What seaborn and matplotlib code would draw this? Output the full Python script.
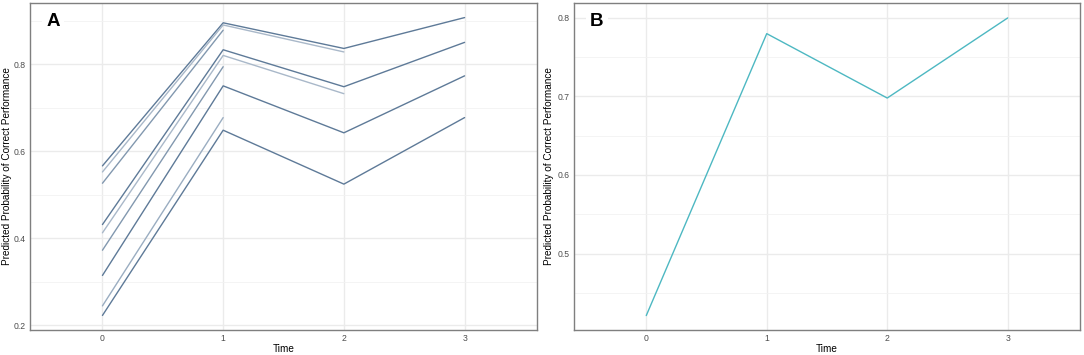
import numpy as np
import pandas as pd
import seaborn as sns
import matplotlib.pyplot as plt
from matplotlib.ticker import MultipleLocator

# panel A: predicted probability per subgroup over time
time_a = [0, 1, 2, 3]
grp_1 = [0.566, 0.895, 0.836, 0.907]
grp_2 = [0.552, 0.890, 0.828]
grp_3 = [0.526, 0.878]
grp_4 = [0.431, 0.833, 0.748, 0.850]
grp_5 = [0.412, 0.820, 0.732]
grp_6 = [0.372, 0.794]
grp_7 = [0.314, 0.750, 0.642, 0.773]
grp_8 = [0.244, 0.677]
grp_9 = [0.222, 0.648, 0.524, 0.677]
groups_a = [grp_1, grp_2, grp_3, grp_4, grp_5, grp_6, grp_7, grp_8, grp_9]
group_colors = ["#5E7A98", "#A9B8C9", "#8298AF", "#5E7A98", "#A9B8C9",
                "#8298AF", "#5E7A98", "#9AADC1", "#5E7A98"]

# panel B: overall predicted probability
time_b = [0, 1, 2, 3]
prob_b = [0.421, 0.780, 0.698, 0.800]

time_ticks = ["0", "1", "2", "3"]
y_label = "Predicted Probability of Correct Performance"

rows = []
for i, vals in enumerate(groups_a):
    for t, v in zip(time_a, vals):
        rows.append({"Time": t, "prob": v, "group": f"g{i + 1}"})
df_a = pd.DataFrame(rows)
df_b = pd.DataFrame({"Time": time_b, "prob": prob_b})

sns.set_theme(style="white")
plt.rcParams["font.family"] = ["Liberation Sans", "DejaVu Sans"]

fig = plt.figure(figsize=(10.84, 3.55), dpi=100)
ax_a = fig.add_axes([0.0277, 0.0704, 0.4677, 0.9211])
ax_b = fig.add_axes([0.5295, 0.0704, 0.4668, 0.9211])

palette = {f"g{i + 1}": c for i, c in enumerate(group_colors)}
sns.lineplot(data=df_a, x="Time", y="prob", hue="group", palette=palette,
             estimator=None, legend=False, linewidth=1.0, ax=ax_a)
sns.lineplot(data=df_b, x="Time", y="prob", color="#4DB8C2",
             estimator=None, linewidth=1.0, ax=ax_b)


def style_axis(ax, ymin, ymax, major, minor, letter, ylab_x):
    ax.set_xlim(-0.6, 3.6)
    ax.set_ylim(ymin, ymax)
    ax.set_xticks(range(len(time_ticks)))
    ax.set_xticklabels(time_ticks)
    ax.yaxis.set_major_locator(MultipleLocator(major))
    ax.yaxis.set_minor_locator(MultipleLocator(minor))
    ax.grid(True, which="major", color="#EBEBEB", linewidth=1.0, zorder=0)
    ax.grid(True, which="minor", axis="y", color="#F2F2F2", linewidth=0.6, zorder=0)
    ax.set_axisbelow(True)
    for s in ax.spines.values():
        s.set_color("#7F7F7F")
        s.set_linewidth(1.0)
    ax.tick_params(axis="both", which="major", length=2.0, width=0.6,
                   color="#333333", labelsize=6.2, labelcolor="#4D4D4D", pad=1.2)
    ax.tick_params(axis="y", which="minor", length=0)
    ax.set_xlabel("Time", fontsize=7.2, color="black", labelpad=0.5)
    ax.set_ylabel(y_label, fontsize=7.2, color="black")
    ax.yaxis.set_label_coords(ylab_x, 0.5)
    ax.text(0.045, 0.943, letter, transform=ax.transAxes, fontsize=13.5,
            fontweight="bold", color="black", ha="center", va="center",
            bbox=dict(facecolor="white", edgecolor="none", pad=3))


style_axis(ax_a, 0.1885, 0.9405, 0.2, 0.1, "A", -0.036)
style_axis(ax_b, 0.4026, 0.819, 0.1, 0.05, "B", -0.039)

fig.savefig("out.png", dpi=100)
